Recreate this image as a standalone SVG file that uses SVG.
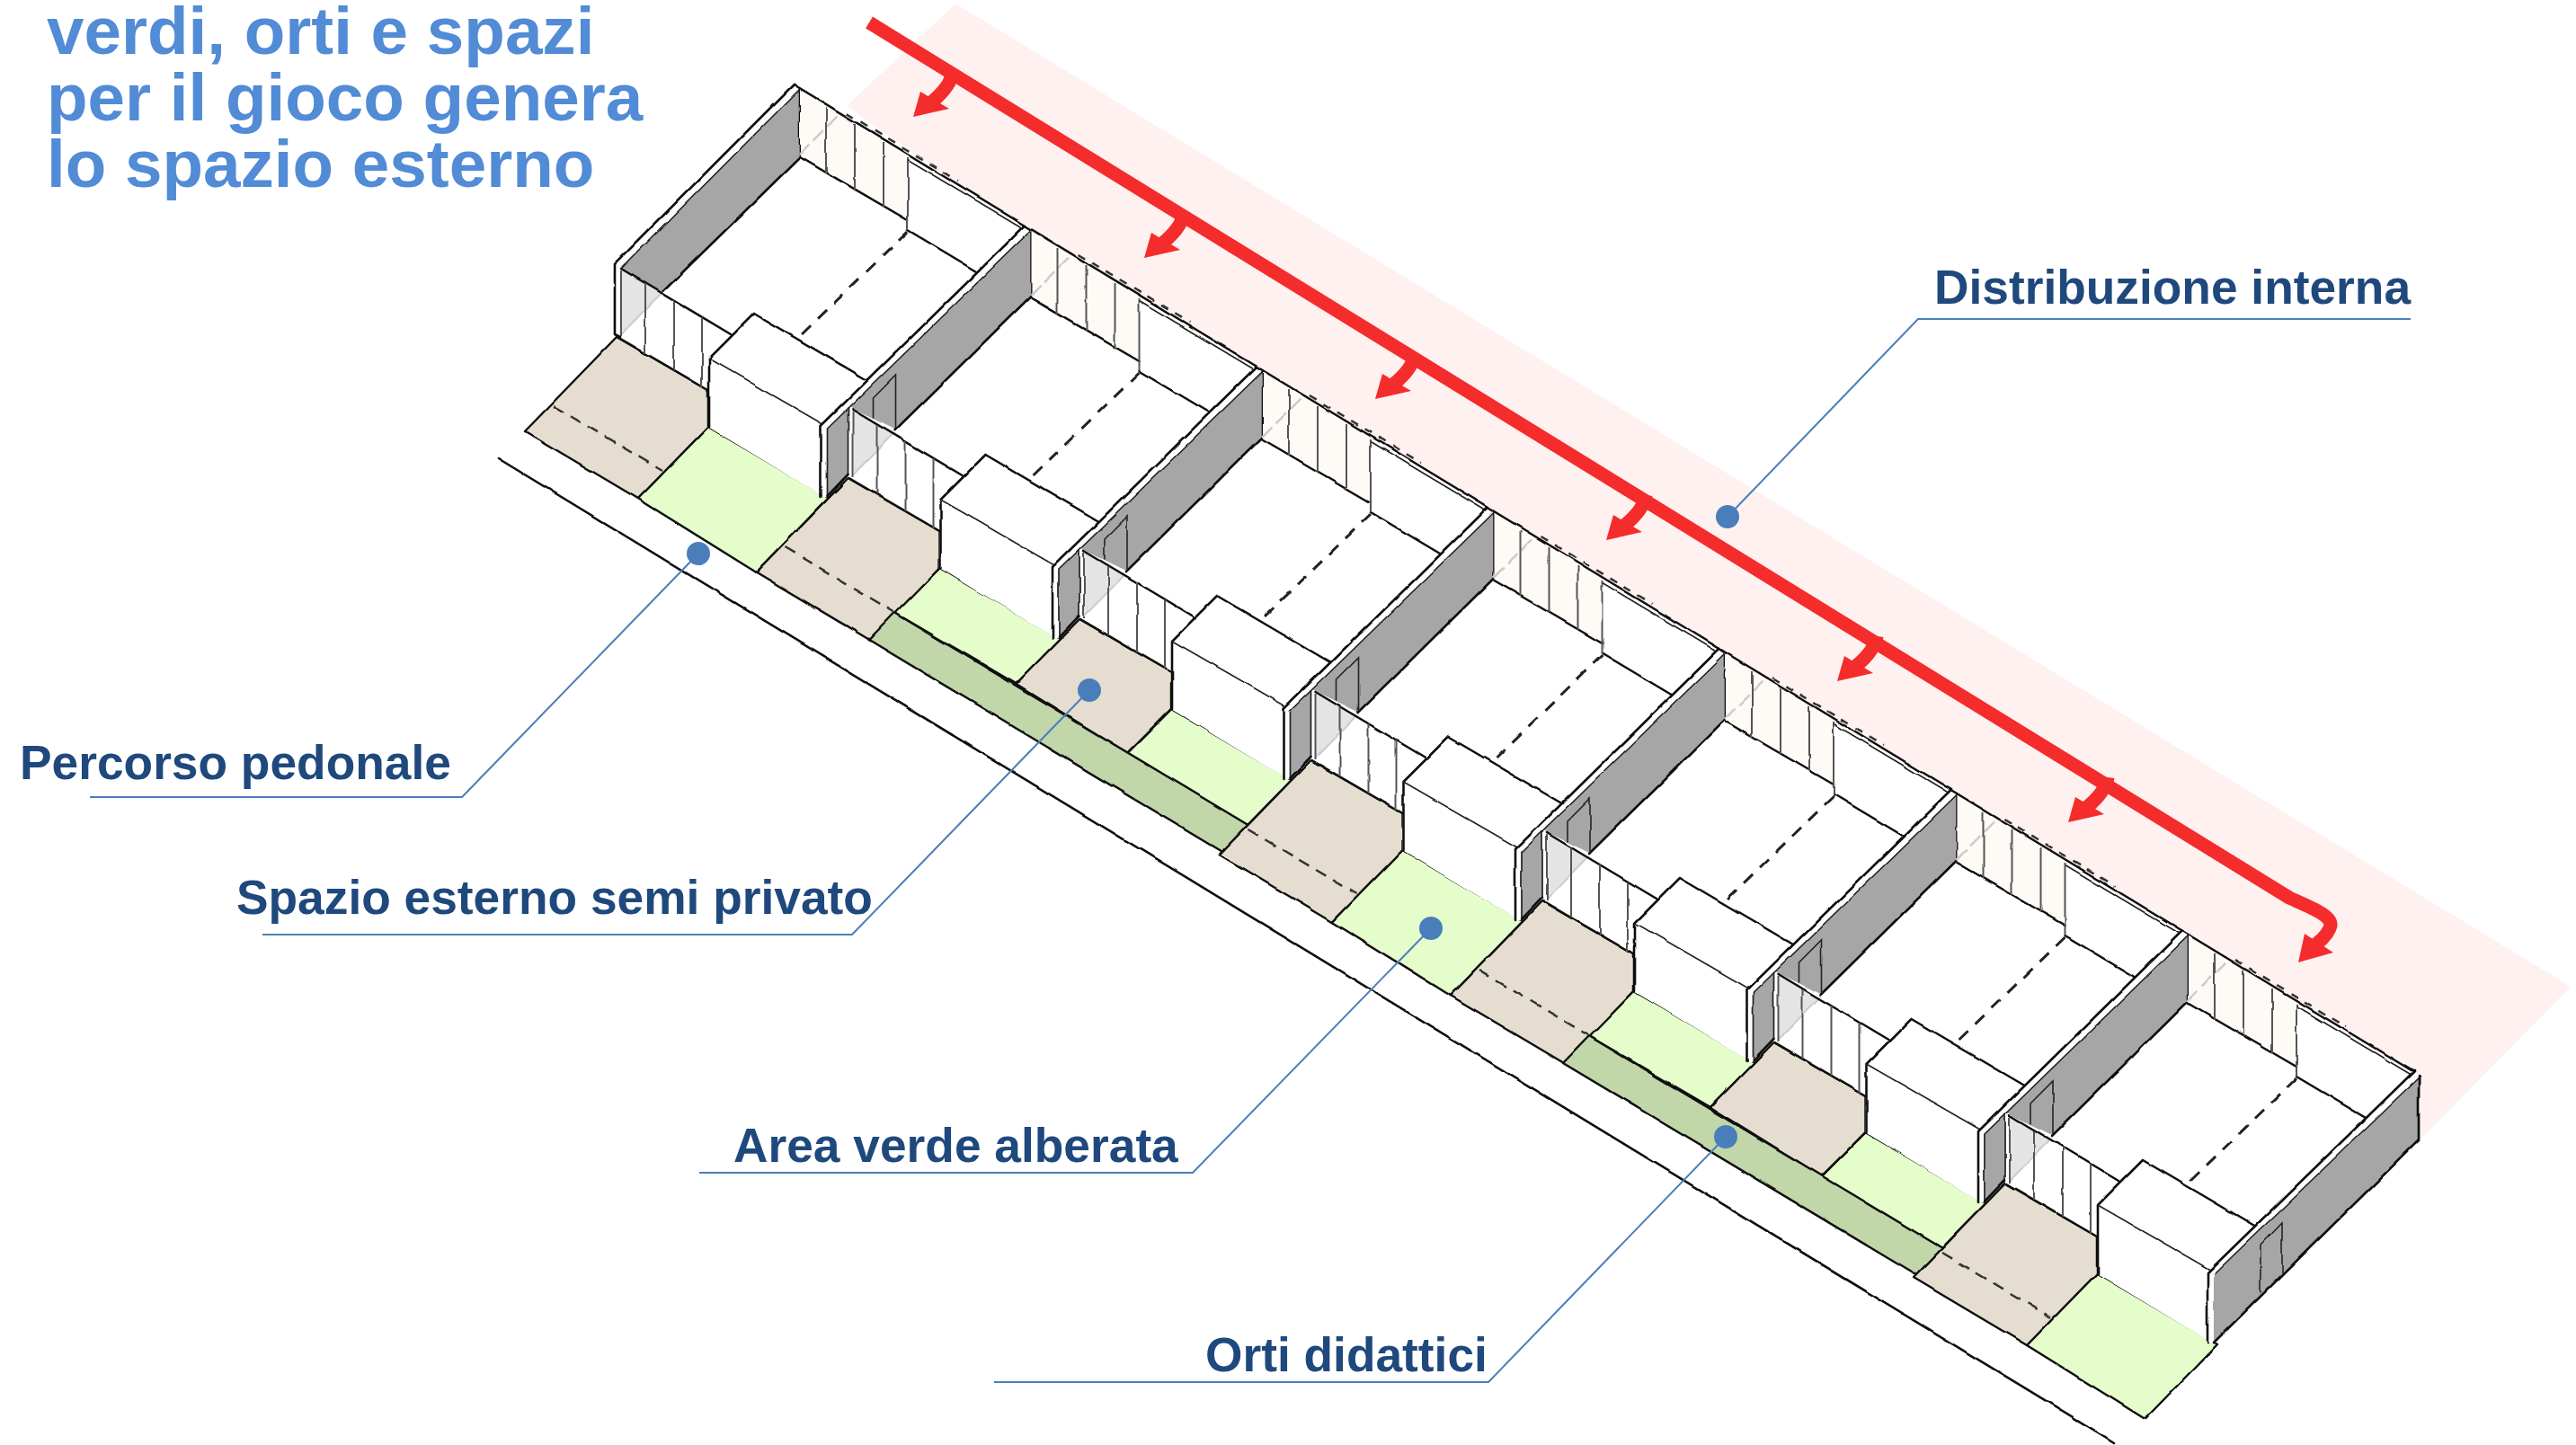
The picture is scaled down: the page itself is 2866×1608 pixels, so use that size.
<svg xmlns="http://www.w3.org/2000/svg" xmlns:xlink="http://www.w3.org/1999/xlink" width="2866" height="1608" viewBox="0 0 2866 1608">
<style>
.k{fill:none;stroke:#111;stroke-width:2.6;stroke-linejoin:round;stroke-linecap:round}
.i{fill:none;stroke:#222;stroke-width:1.7;stroke-linejoin:round}
.t{fill:none;stroke:#222;stroke-width:1.6;stroke-linecap:round}
.m{fill:none;stroke:#555;stroke-width:2}
.lg{fill:none;stroke:#ccc;stroke-width:2}
.d{fill:none;stroke:#222;stroke-width:3;stroke-dasharray:14 11}
.ds{fill:none;stroke:#333;stroke-width:2.5;stroke-dasharray:13 9}
.dt{fill:none;stroke:#333;stroke-width:2.5;stroke-dasharray:9 9}
.dg{fill:none;stroke:#ccc;stroke-width:2.5;stroke-dasharray:16 6}
.w{fill:#fff}
.gl{fill:#fefaf6}
.g{fill:#a6a6a6}
.be{fill:#e5ddcf;stroke:#111;stroke-width:2.5;stroke-linejoin:round}
.gr{fill:#e4fdcb;stroke:#111;stroke-width:2.5;stroke-linejoin:round}
.ba{fill:#c1d6a9;stroke:#111;stroke-width:2.5;stroke-linejoin:round}
.red{fill:none;stroke:#f42c2c;stroke-width:15;stroke-linejoin:round}
.redb{fill:none;stroke:#f42c2c;stroke-width:15}
.redf{fill:#f42c2c}
.ld{fill:none;stroke:#4a7ebb;stroke-width:2}
.dot{fill:#4a7ebb}
.title{font:bold 74.6px "Liberation Sans",Arial,sans-serif;fill:#528bd6}
.lab{font:bold 53.3px "Liberation Sans",Arial,sans-serif;fill:#1f497d}
</style>
<defs>
<filter id="sketch" x="0" y="0" width="2866" height="1608" filterUnits="userSpaceOnUse"><feTurbulence type="fractalNoise" baseFrequency="0.03" numOctaves="2" seed="4" result="n"/><feDisplacementMap in="SourceGraphic" in2="n" scale="3.5" xChannelSelector="R" yChannelSelector="G"/></filter>
<g id="beige"><polygon class="be" points="-197,281 -95,340 -95,381 -173,461 -299,386"/></g>
<g id="beigeDash"><use href="#beige"/><path class="ds" d="M-267,358L-146,430"/></g>
<g id="beigeShort"><polygon class="be" points="-197,281 -95,340 -95,381 -144,430 -267.5,353"/></g>
<g id="green"><polygon class="gr" points="-95,381 39,460 -41.5,543 -173,461"/></g>
<g id="greenShort"><polygon class="gr" points="-95,381 39,460 -10,510 -145,431"/></g>
<g id="band"><polygon class="ba" points="-145,431 -174,461 219,697 248,667"/></g>
<g id="floor"><polygon class="w" points="0,0 258,157 36,380 36,460 -95,381 -95,340 -197,281 -199,200"/></g>
<g id="wallLong">
<polygon class="w" points="0,0 -227,223 -227,302 -220,302 -220,226 7,5"/>
<polygon class="g" points="7,5 -196,202 -145,227 7,78"/>
<polygon class="g" points="-220,226 -197,203 -197,277 -220,301"/>
<path class="k" d="M0,0L-227,223V302"/><path class="i" d="M7,5L-220,226V301"/>
<path class="k" d="M7,5V78L-145,228"/>
<path class="i" d="M-197,203V277"/><path class="k" d="M-197,277L-220,301"/>
<path class="t" d="M-169,214V192L-144,167V225"/>
</g>
<g id="wallEnd">
<polygon class="w" points="0,0 -230,224 -230,302 -223,302 -223,226 7,5"/>
<polygon class="g" points="7,5 -223,226 -223,302 5,77"/>
<path class="k" d="M0,0L-230,224V302"/><path class="i" d="M7,5L-223,226"/><path class="k" d="M-223,302L5,77V5"/>
<path class="t" d="M-171,246V194L-147,169V225"/>
</g>
<g id="wallFirst">
<polygon class="w" points="0,0 -199,200 -199,278 -192,280 -192,205 7,5"/>
<polygon class="g" points="7,5 -192,205 -146,231 7,81"/>
<path class="k" d="M0,0L-199,200V278L-193,281"/><path class="i" d="M7,5L-192,205"/>
<path class="k" d="M7,5V81L-146,231"/>
</g>
<g id="inner">
<polygon class="gl" points="7,5 127,81 127,151 7,81"/>
<polygon fill="#e4e4e4" points="-192,207 -146,231 -192,278"/>
<path class="dg" d="M6,78L52,32"/>
<path class="lg" d="M-192,278L-146,231"/>
<path class="k" d="M0,0L258,157"/>
<path class="k" d="M7,81L127,151"/><path class="k" d="M127,162L204,208"/>
<path class="m" d="M127,81V162"/><path class="t" d="M128,84L253,159"/>
<path class="d" d="M127,164L8,279"/>
<path class="m" d="M36,25V99M68,44V117M100,64V136"/>
<path class="dt" d="M59,32L183,107"/>
<path class="k" d="M-192,205L-70,278"/>
<path class="k" d="M-196,281L-95,340"/>
<path class="m" d="M-192,207V280M-165,222V299M-133,240V318M-102,259V337"/>
<polygon class="w" points="-44,255 -94,305 -95,381 36,460 36,380 82,329"/>
<path class="k" d="M-44,255L-94,305V381M-44,255L82,329"/>
<path class="t" d="M-94,305L36,380"/>
<path class="m" d="M36,380V460"/>
</g>
<g id="branch"><path class="redb" d="M2,0Q0,16 -22,34"/><polygon class="redf" points="-42,50 -34,22 -2,41"/></g>
</defs>
<g id="background"><polygon fill="#fef1f0" points="1063,4 2860,1098 2691,1270 2600,1300 942,118"/></g>
<g filter="url(#sketch)">
<g id="street"><path class="k" d="M554,510L2352,1605"/></g>
<g id="ground">
<use href="#beigeDash" x="883" y="94"/><use href="#green" x="883" y="94"/>
<use href="#greenShort" x="1140.5" y="251"/><use href="#beigeDash" x="1140.5" y="251"/>
<use href="#greenShort" x="1398" y="408"/><use href="#beigeShort" x="1398" y="408"/>
<use href="#band" x="1140.5" y="251"/>
<use href="#green" x="1655.5" y="565"/><use href="#beigeDash" x="1655.5" y="565"/>
<use href="#greenShort" x="1913" y="722"/><use href="#beigeDash" x="1913" y="722"/>
<use href="#greenShort" x="2170.5" y="879"/><use href="#beigeShort" x="2170.5" y="879"/>
<use href="#band" x="1913" y="722"/>
<use href="#green" x="2428" y="1036"/><use href="#beigeDash" x="2428" y="1036"/>
</g>
<g id="building">
<g id="unit1"><use href="#floor" x="883" y="94"/><use href="#wallFirst" x="883" y="94"/><use href="#inner" x="883" y="94"/></g>
<g id="unit2"><use href="#floor" x="1140.5" y="251"/><use href="#wallLong" x="1140.5" y="251"/><use href="#inner" x="1140.5" y="251"/></g>
<g id="unit3"><use href="#floor" x="1398" y="408"/><use href="#wallLong" x="1398" y="408"/><use href="#inner" x="1398" y="408"/></g>
<g id="unit4"><use href="#floor" x="1655.5" y="565"/><use href="#wallLong" x="1655.5" y="565"/><use href="#inner" x="1655.5" y="565"/></g>
<g id="unit5"><use href="#floor" x="1913" y="722"/><use href="#wallLong" x="1913" y="722"/><use href="#inner" x="1913" y="722"/></g>
<g id="unit6"><use href="#floor" x="2170.5" y="879"/><use href="#wallLong" x="2170.5" y="879"/><use href="#inner" x="2170.5" y="879"/></g>
<g id="unit7"><use href="#floor" x="2428" y="1036"/><use href="#wallLong" x="2428" y="1036"/><use href="#inner" x="2428" y="1036"/></g>
<g id="wall8"><use href="#wallEnd" x="2686" y="1192"/></g>
</g>
</g>
<g id="flow">
<path class="red" d="M967,25L2547,999C2575,1012 2598,1020 2592,1033Q2587,1045 2569,1056"/>
<polygon class="redf" points="2557,1071 2564,1039 2596,1060"/>
<use href="#branch" x="1058" y="80"/><use href="#branch" x="1315" y="237"/><use href="#branch" x="1572" y="394"/><use href="#branch" x="1829" y="551"/><use href="#branch" x="2086" y="708"/><use href="#branch" x="2343" y="865"/>
</g>
<g id="connectors">
<path class="ld" d="M2682,355H2134L1922,575"/>
<path class="ld" d="M100,887H514L777,616"/>
<path class="ld" d="M292,1040H948L1212,768"/>
<path class="ld" d="M778,1305H1327L1592,1033"/>
<path class="ld" d="M1106,1538H1656L1920,1265"/>
<circle class="dot" cx="1922" cy="575" r="13"/><circle class="dot" cx="777" cy="616" r="13"/><circle class="dot" cx="1212" cy="768" r="13"/><circle class="dot" cx="1592" cy="1033" r="13"/><circle class="dot" cx="1920" cy="1265" r="13"/>
</g>
<g id="title"><text class="title" x="52" y="60">verdi, orti e spazi</text><text class="title" x="52" y="134">per il gioco genera</text><text class="title" x="52" y="208">lo spazio esterno</text></g>
<g id="label-distribuzione"><text class="lab" x="2152" y="338">Distribuzione interna</text></g>
<g id="label-percorso"><text class="lab" x="22" y="867">Percorso pedonale</text></g>
<g id="label-spazio"><text class="lab" x="263" y="1017">Spazio esterno semi privato</text></g>
<g id="label-area"><text class="lab" x="816" y="1293">Area verde alberata</text></g>
<g id="label-orti"><text class="lab" x="1341" y="1526">Orti didattici</text></g>
</svg>
